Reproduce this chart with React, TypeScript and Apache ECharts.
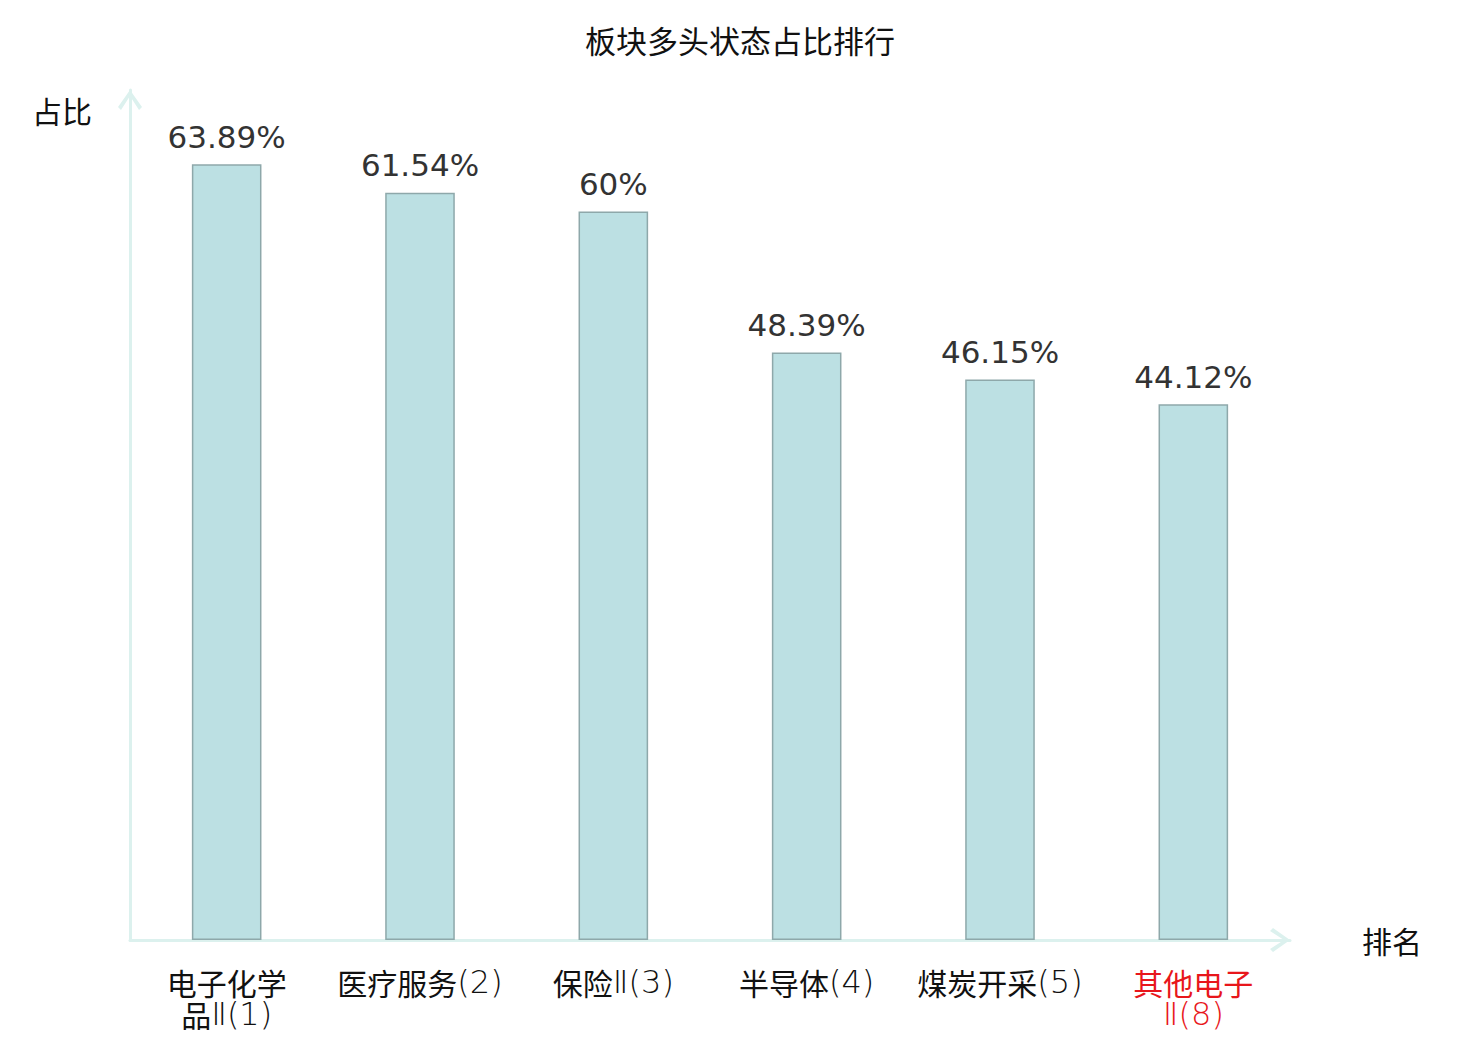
import React, { useEffect, useRef } from "react";
import * as echarts from "echarts";

const titleText = "板块多头状态占比排行";
const yAxisName = "占比";
const xAxisName = "排名";
const categories = ["电子化学品Ⅱ(1)", "医疗服务(2)", "保险Ⅱ(3)", "半导体(4)", "煤炭开采(5)", "其他电子Ⅱ(8)"];
const values = [63.89, 61.54, 60, 48.39, 46.15, 44.12];
const highlightIndex = 5;

const CJK = '"Noto Sans CJK SC", "Noto Sans", sans-serif';
const LAT = '"DejaVu Sans", "Noto Sans CJK SC", sans-serif';
const chevron = "path://M12 0 L24 17 L21 20 L12 6 L3 20 L0 17 Z";

function richLabel(v: string): string {
  const wrapped = v.length > 7 ? v.slice(0, 4) + "\n" + v.slice(4) : v;
  return wrapped
    .split("\n")
    .map((line) =>
      (line.match(/[\u4e00-\u9fff]+|[^\u4e00-\u9fff]+/g) || [])
        .map((run) => (/[\u4e00-\u9fff]/.test(run) ? `{c|${run}}` : `{l|${run}}`))
        .join("")
    )
    .join("\n");
}

export default function App() {
  const ref = useRef<HTMLDivElement>(null);
  useEffect(() => {
    if (!ref.current) return;
    const chart = echarts.init(ref.current, undefined, { renderer: "svg" });
    const axisLine = {
      show: true,
      lineStyle: { color: "#dcf1ee", width: 3 },
      symbol: ["none", chevron],
      symbolSize: [24, 20],
      symbolOffset: [0, -10],
    };
    chart.setOption({
      animation: false,
      backgroundColor: "#ffffff",
      title: {
        text: titleText,
        left: "center",
        top: 11,
        textStyle: { fontFamily: CJK, fontSize: 31, fontWeight: "normal", color: "#111" },
      },
      grid: { left: 122, right: 182, top: 82, bottom: 92, containLabel: false },
      xAxis: {
        type: "category",
        data: categories.map((c, i) => ({
          value: c,
          textStyle: { color: i === highlightIndex ? "#e8161b" : "#111" },
        })),
        name: xAxisName,
        nameLocation: "end",
        nameGap: 72,
        nameTextStyle: { fontFamily: CJK, fontSize: 30, color: "#111", verticalAlign: "middle" },
        axisLine,
        axisTick: { show: false },
        axisLabel: {
          interval: 0,
          margin: 26,
          fontFamily: CJK,
          fontSize: 30,
          lineHeight: 32,
          formatter: richLabel,
          rich: {
            c: { fontFamily: CJK, fontSize: 30, lineHeight: 32 },
            l: { fontFamily: LAT, fontSize: 32, fontWeight: 200, lineHeight: 32 },
          },
        },
        splitLine: { show: false },
      },
      yAxis: {
        type: "value",
        min: 0,
        max: 70,
        name: yAxisName,
        nameLocation: "end",
        nameGap: -20,
        nameTextStyle: {
          fontFamily: CJK,
          fontSize: 30,
          color: "#111",
          align: "right",
          verticalAlign: "middle",
          padding: [0, 38, 0, 0],
        },
        axisLine,
        axisTick: { show: false },
        axisLabel: { show: false },
        splitLine: { show: false },
      },
      series: [
        {
          type: "bar",
          data: values,
          barWidth: "36%",
          itemStyle: { color: "#bce0e3", borderColor: "#8ea8aa", borderWidth: 1.5 },
          label: {
            show: true,
            position: "top",
            distance: 12,
            fontFamily: '"DejaVu Sans", sans-serif',
            fontSize: 31,
            color: "#333",
            formatter: (p: any) => p.value + "%",
          },
        },
      ],
    });
    return () => chart.dispose();
  }, []);
  return <div ref={ref} style={{ width: 1464, height: 1024 }} />;
}
